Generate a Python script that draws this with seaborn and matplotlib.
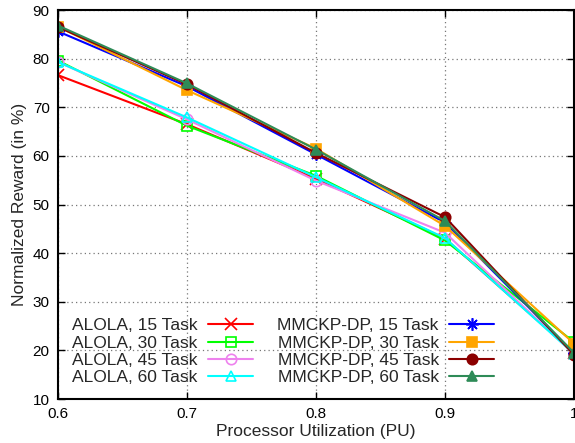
import matplotlib
matplotlib.use("Agg")
import matplotlib.pyplot as plt
import seaborn as sns
import pandas as pd

# Processor utilization levels (x axis)
pu = [0.6, 0.7, 0.8, 0.9, 1.0]

# Normalized reward (%) for each scheduler / task-set size
alola_15 = [76.6, 66.5, 55.3, 43.0, 19.5]
alola_30 = [79.6, 66.2, 55.9, 42.6, 21.7]
alola_45 = [79.3, 67.5, 54.9, 44.2, 19.2]
alola_60 = [79.3, 67.9, 55.6, 43.1, 19.3]
mmckp_15 = [85.6, 74.3, 60.3, 46.3, 19.4]
mmckp_30 = [86.6, 73.5, 61.5, 45.6, 21.4]
mmckp_45 = [86.5, 74.7, 60.6, 47.4, 19.1]
mmckp_60 = [86.8, 74.9, 61.3, 46.6, 19.5]

labels = [
    "ALOLA, 15 Task", "ALOLA, 30 Task", "ALOLA, 45 Task", "ALOLA, 60 Task",
    "MMCKP-DP, 15 Task", "MMCKP-DP, 30 Task", "MMCKP-DP, 45 Task", "MMCKP-DP, 60 Task",
]
series = [alola_15, alola_30, alola_45, alola_60,
          mmckp_15, mmckp_30, mmckp_45, mmckp_60]

colors = ["#ff0000", "#00ff00", "#ee82ee", "#00ffff",
          "#0000ff", "#ffa500", "#8b0000", "#2e8b57"]
markers = ["x", "s", "o", "^", (8, 2, 0), "s", "o", "^"]
filled = [False, False, False, False, True, True, True, True]

sns.set_theme(style="white")
plt.rcParams["font.family"] = ["Liberation Sans", "DejaVu Sans"]

fig = plt.figure(figsize=(5.75, 4.43), dpi=100)
ax = fig.add_axes([0.1009, 0.0993, 0.8974, 0.8781])

for lab, vals, col, mk, fl in zip(labels, series, colors, markers, filled):
    df = pd.DataFrame({"pu": pu, "reward": vals})
    kw = dict(markersize=7.5, markeredgewidth=1.2)
    if mk == "x":
        kw["markersize"] = 8.5
    elif not fl:
        kw["markerfacecolor"] = "none"
    else:
        kw["markerfacecolor"] = col
    if isinstance(mk, tuple):
        kw["markersize"] = 9
    sns.lineplot(data=df, x="pu", y="reward", ax=ax, color=col, marker=mk,
                 markeredgecolor=col, linewidth=1.5, label=lab, **kw)

ax.set_xlim(0.6, 1.0)
ax.set_ylim(10, 90)
ax.set_xticks([0.6, 0.7, 0.8, 0.9, 1.0])
ax.set_xticklabels(["0.6", "0.7", "0.8", "0.9", "1"])
ax.set_yticks(range(10, 91, 10))
ax.tick_params(axis="both", direction="in", length=5, width=1, colors="black",
               labelsize=11, top=True, right=True, bottom=True, left=True, pad=6)
ax.grid(True, color="#777777", linestyle=(0, (1, 2.5)), linewidth=0.9)
for sp in ax.spines.values():
    sp.set_color("black")
    sp.set_linewidth(1.5)

ax.set_xlabel("Processor Utilization (PU)", fontsize=12.5, labelpad=2)
ax.set_ylabel("Normalized Reward (in %)", fontsize=12.5, labelpad=4)

ax.legend(ncol=2, markerfirst=False, frameon=False, fontsize=12.5,
          loc="lower left", bbox_to_anchor=(0.0, 0.0),
          handlelength=2.6, handletextpad=0.6, columnspacing=1.4,
          labelspacing=0.12, borderaxespad=0.4)

fig.savefig("out.png", dpi=100)
